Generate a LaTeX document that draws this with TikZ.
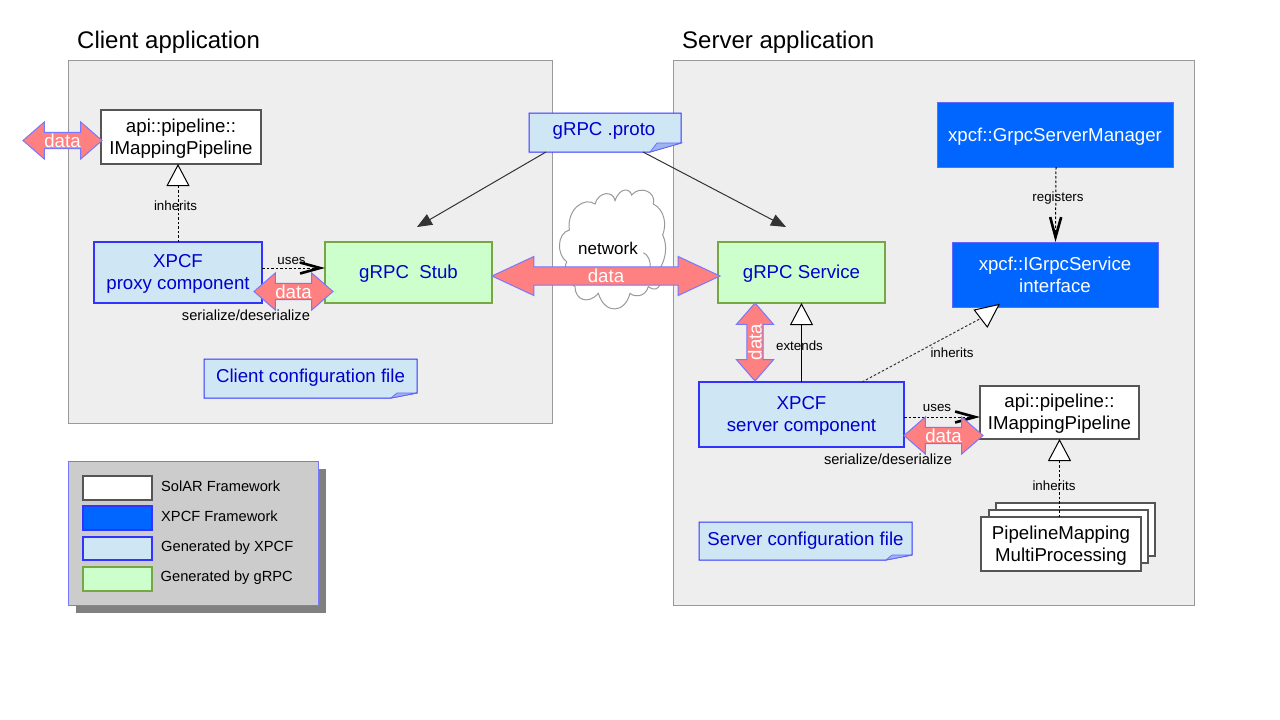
\documentclass[tikz,border=0pt]{standalone}
\usepackage{fontspec}
\setmainfont{Liberation Sans}
\usetikzlibrary{arrows.meta,shapes.arrows,calc}
\definecolor{panelfill}{HTML}{EEEEEE}
\definecolor{panelline}{HTML}{999999}
\definecolor{genfill}{HTML}{CFE7F5}
\definecolor{genline}{HTML}{3333FF}
\definecolor{gentext}{HTML}{0000CC}
\definecolor{grpcfill}{HTML}{CCFFCC}
\definecolor{grpcline}{HTML}{77A644}
\definecolor{xpcffill}{HTML}{0066FF}
\definecolor{xpcfline}{HTML}{6666FF}
\definecolor{solarline}{HTML}{555555}
\definecolor{fatfill}{HTML}{FF8080}
\definecolor{fatline}{HTML}{7777FF}
\definecolor{foldfill}{HTML}{9DB5EE}
\definecolor{legfill}{HTML}{CCCCCC}
\definecolor{legshadow}{HTML}{808080}
\definecolor{wireline}{HTML}{333333}
\newcommand{\bigf}{\fontsize{18.67}{22}\selectfont}
\newcommand{\labf}{\fontsize{13.33}{15}\selectfont}
\newcommand{\midf}{\fontsize{14.67}{17}\selectfont}
\newcommand{\lowtext}[1]{\rule{0pt}{#1pt}}
\tikzset{
  x=1pt,y=-1pt,
  box/.style n args={4}{at={({(#1+#3)/2},{(#2+#4)/2})},minimum width={#3-#1},minimum height={#4-#2},
    rectangle,inner sep=0pt,outer sep=0pt,align=center,font=\bigf},
  ibox/.style n args={4}{box={#1+.75}{#2+.75}{#3-.75}{#4-.75}},
  panel/.style={draw=panelline,fill=panelfill,line width=1pt},
  solar/.style={draw=solarline,fill=white,line width=2pt,text=black},
  gen/.style={draw=genline,fill=genfill,line width=2pt,text=gentext},
  grpc/.style={draw=grpcline,fill=grpcfill,line width=2pt,text=gentext},
  xpcf/.style={draw=xpcfline,fill=xpcffill,line width=.8pt,text=white},
  notebox/.style={text=gentext},
  notepath/.style={draw=genline,fill=genfill,line width=1pt,line join=miter},
  foldpath/.style={draw=xpcfline,fill=foldfill,line width=.7pt},
  title/.style={anchor=west,inner sep=0pt,font=\fontsize{24}{28}\selectfont},
  lab/.style={inner sep=0pt,font=\labf,text=black},
  midlab/.style={inner sep=0pt,font=\midf,text=black},
  leglab/.style={anchor=west,inner sep=0pt,font=\midf,text=black},
  fat/.style={double arrow,draw=fatline,fill=fatfill,line width=1pt,inner sep=0pt,outer sep=0pt,
    text=white,font=\bigf,double arrow head extend=9.5pt,double arrow tip angle=82,
    minimum width=37pt},
  wire/.style={draw=wireline,line width=1pt},
  dotw/.style={draw=black,line width=1pt,dash pattern=on 2.5pt off 2pt},
  implements/.style={-{Triangle[open,length=22pt,width=23pt,fill=white,line width=1pt]}},
  usesarrow/.style={-{Straight Barb[length=20pt,width=11pt,line width=2.6pt]}},
  solidarrow/.style={-{Triangle[length=15pt,width=12pt]}},
}
\begin{document}
\begin{tikzpicture}
\useasboundingbox (0,0) rectangle (1280,720);

% panels
\node[panel,box={68}{60}{552}{423}] (clientpanel) {};
\node[panel,box={673}{60}{1194}{605}] (serverpanel) {};
\node[title] (clienttitle) at (77,42.5) {Client application};
\node[title] (servertitle) at (682,42.5) {Server application};

% cloud
\begin{scope}[shift={(550,180)},scale=1/3]
\draw[draw=panelline,fill=white,line width=1pt]
  (58,150) .. controls (50,85) and (105,50) .. (135,72)
  .. controls (145,35) and (190,30) .. (195,62)
  .. controls (210,20) and (240,25) .. (245,45)
  .. controls (270,15) and (320,35) .. (310,72)
  .. controls (345,90) and (350,135) .. (338,165)
  .. controls (355,200) and (345,240) .. (330,265)
  .. controls (340,300) and (330,345) .. (295,320)
  .. controls (285,355) and (250,350) .. (240,340)
  .. controls (225,400) and (165,405) .. (145,340)
  .. controls (115,375) and (75,360) .. (75,320)
  .. controls (45,300) and (40,270) .. (50,245)
  .. controls (20,225) and (20,160) .. (58,150) -- cycle;
\draw[draw=panelline,line width=1pt] (280,218) .. controls (295,225) and (303,245) .. (300,262);
\end{scope}
\node[inner sep=0pt,font=\fontsize{17}{19}\selectfont] (networklab) at (608,248) {network};

% client side nodes
\node[solar,ibox={101}{110}{261}{164}] (apiclient) {\lowtext{17.5}api::pipeline::\\IMappingPipeline};
\node[gen,ibox={94}{242}{262}{303}] (proxy) {\lowtext{16}XPCF\\proxy component};
\node[grpc,ibox={325}{242}{492}{303}] (stub) {\lowtext{15.5}gRPC\ \ Stub};
\node[notebox,box={204}{359}{417}{398}] (clientcfg) {};
\draw[notepath] (clientcfg.north west) -- (clientcfg.north east) -- (417,393) -- (391,398) -- (clientcfg.south west) -- cycle;
\draw[foldpath] (391,398) -- (397,393) -- (417,393) -- cycle;
\node[notebox] at (310.5,378) (clientcfgtext) {\bigf Client configuration file};

% proto
\node[notebox,box={529}{113}{681}{152}] (proto) {};
\draw[notepath] (proto.north west) -- (proto.north east) -- (681,143) -- (650,152) -- (proto.south west) -- cycle;
\draw[foldpath] (650,152) -- (657,143) -- (681,143) -- cycle;
\node[notebox] at (604,131) (prototext) {\bigf gRPC .proto};

% server side nodes
\node[grpc,ibox={718}{242}{885}{303}] (service) {\lowtext{15.5}gRPC Service};
\node[xpcf,ibox={937}{102}{1173}{167}] (manager) {\lowtext{17}xpcf::GrpcServerManager};
\node[xpcf,ibox={952}{242}{1158}{307}] (igrpc) {xpcf::IGrpcService\\interface};
\node[gen,ibox={699}{382}{904}{447}] (servercomp) {\lowtext{16.5}XPCF\\server component};
\node[solar,ibox={980}{386}{1139}{439}] (apiserver) {\lowtext{16.5}api::pipeline::\\IMappingPipeline};
\node[solar,ibox={996}{503}{1155}{556}] (stackback) {};
\node[solar,ibox={989}{510}{1148}{563}] (stackmid) {};
\node[solar,ibox={981}{517}{1141}{571}] (stackfront) {\lowtext{16.5}PipelineMapping\\MultiProcessing};
\node[notebox,box={699}{522}{912}{560}] (servercfg) {};
\draw[notepath] (servercfg.north west) -- (servercfg.north east) -- (912,555) -- (886,560) -- (servercfg.south west) -- cycle;
\draw[foldpath] (886,560) -- (892,555) -- (912,555) -- cycle;
\node[notebox] at (805.5,541) (servercfgtext) {\bigf Server configuration file};

% legend
\node[box={76}{469}{326}{613},fill=legshadow] (legshadow) {};
\node[box={68}{461}{318}{605},fill=legfill,draw=fatline,line width=1pt] (legend) {};
\node[solar,ibox={83}{476}{152}{500}] (leg1) {};
\node[xpcf,ibox={83}{506}{152}{530},draw=genline,line width=1.5pt] (leg2) {};
\node[gen,ibox={83}{537}{152}{560}] (leg3) {};
\node[grpc,ibox={83}{567}{152}{591}] (leg4) {};
\node[leglab] (leg1t) at (161,486) {SolAR Framework};
\node[leglab] (leg2t) at (161,516.5) {XPCF Framework};
\node[leglab] (leg3t) at (161,547.5) {Generated by XPCF};
\node[leglab] (leg4t) at (160.5,577.5) {Generated by gRPC};

% connectors
\coordinate (protoL) at (546,152);
\coordinate (stubin) at (417,227);
\coordinate (protoR) at (643,152);
\coordinate (servicein) at (786,227);
\draw[wire,solidarrow] (protoL) -- (stubin);
\draw[wire,solidarrow] (protoR) -- (servicein);

\draw[dotw,implements] (proxy.north) -- (proxy.north |- apiclient.south);
\draw[dotw,usesarrow] ($(proxy.east)+(0,-4.5)$) -- ($(stub.west)+(0,-4.5)$);
\draw[dotw,usesarrow] ($(manager.south)+(1,0)$) -- ($(igrpc.north)+(0.5,0)$);
\draw[line width=1pt,draw=black,implements] (servercomp.north) -- (service.south);
\coordinate (igrpcbase) at (980.5,318.5);
\coordinate (scout) at (862,382);
\draw[draw=wireline,line width=1pt,dash pattern=on 2.5pt off 2pt] (scout) -- (igrpcbase);
\draw[draw=black,fill=white,line width=1pt,line join=miter] (974.3,310) -- (999,304.5) -- (987.3,327) -- cycle;
\draw[dotw,usesarrow] ($(servercomp.east)+(0,2.5)$) -- ($(apiserver.west)+(0,4.5)$);
\draw[dotw,implements] (stackfront.north -| apiserver.south) -- (apiserver.south);

% connector labels
\node[lab] (l1) at (175.5,205.5) {inherits};
\node[lab] (l2) at (291.5,261) {uses};
\node[midlab] (l3) at (246,315) {serialize/deserialize};
\node[lab] (l4) at (1058,198) {registers};
\node[lab] (l5) at (799.5,345.5) {extends};
\node[lab] (l6) at (952,352.5) {inherits};
\node[lab] (l7) at (937,408) {uses};
\node[midlab] (l8) at (888,459) {serialize/deserialize};
\node[lab] (l9) at (1054,485.5) {inherits};

% data arrows
\node[fat,minimum height=79pt] (data1) at (62.5,140.5) {data};
\node[fat,minimum height=79pt] (data2) at (293.5,291.5) {data};
\node[fat,minimum height=228pt,double arrow tip angle=50,double arrow head extend=8.5pt,minimum width=39pt] (data3) at (606,276) {data};
\node[fat,minimum height=78pt,rotate=90] (data4) at (755,342) {data};
\node[fat,minimum height=79pt] (data5) at (943.5,435.5) {data};
\end{tikzpicture}
\end{document}
